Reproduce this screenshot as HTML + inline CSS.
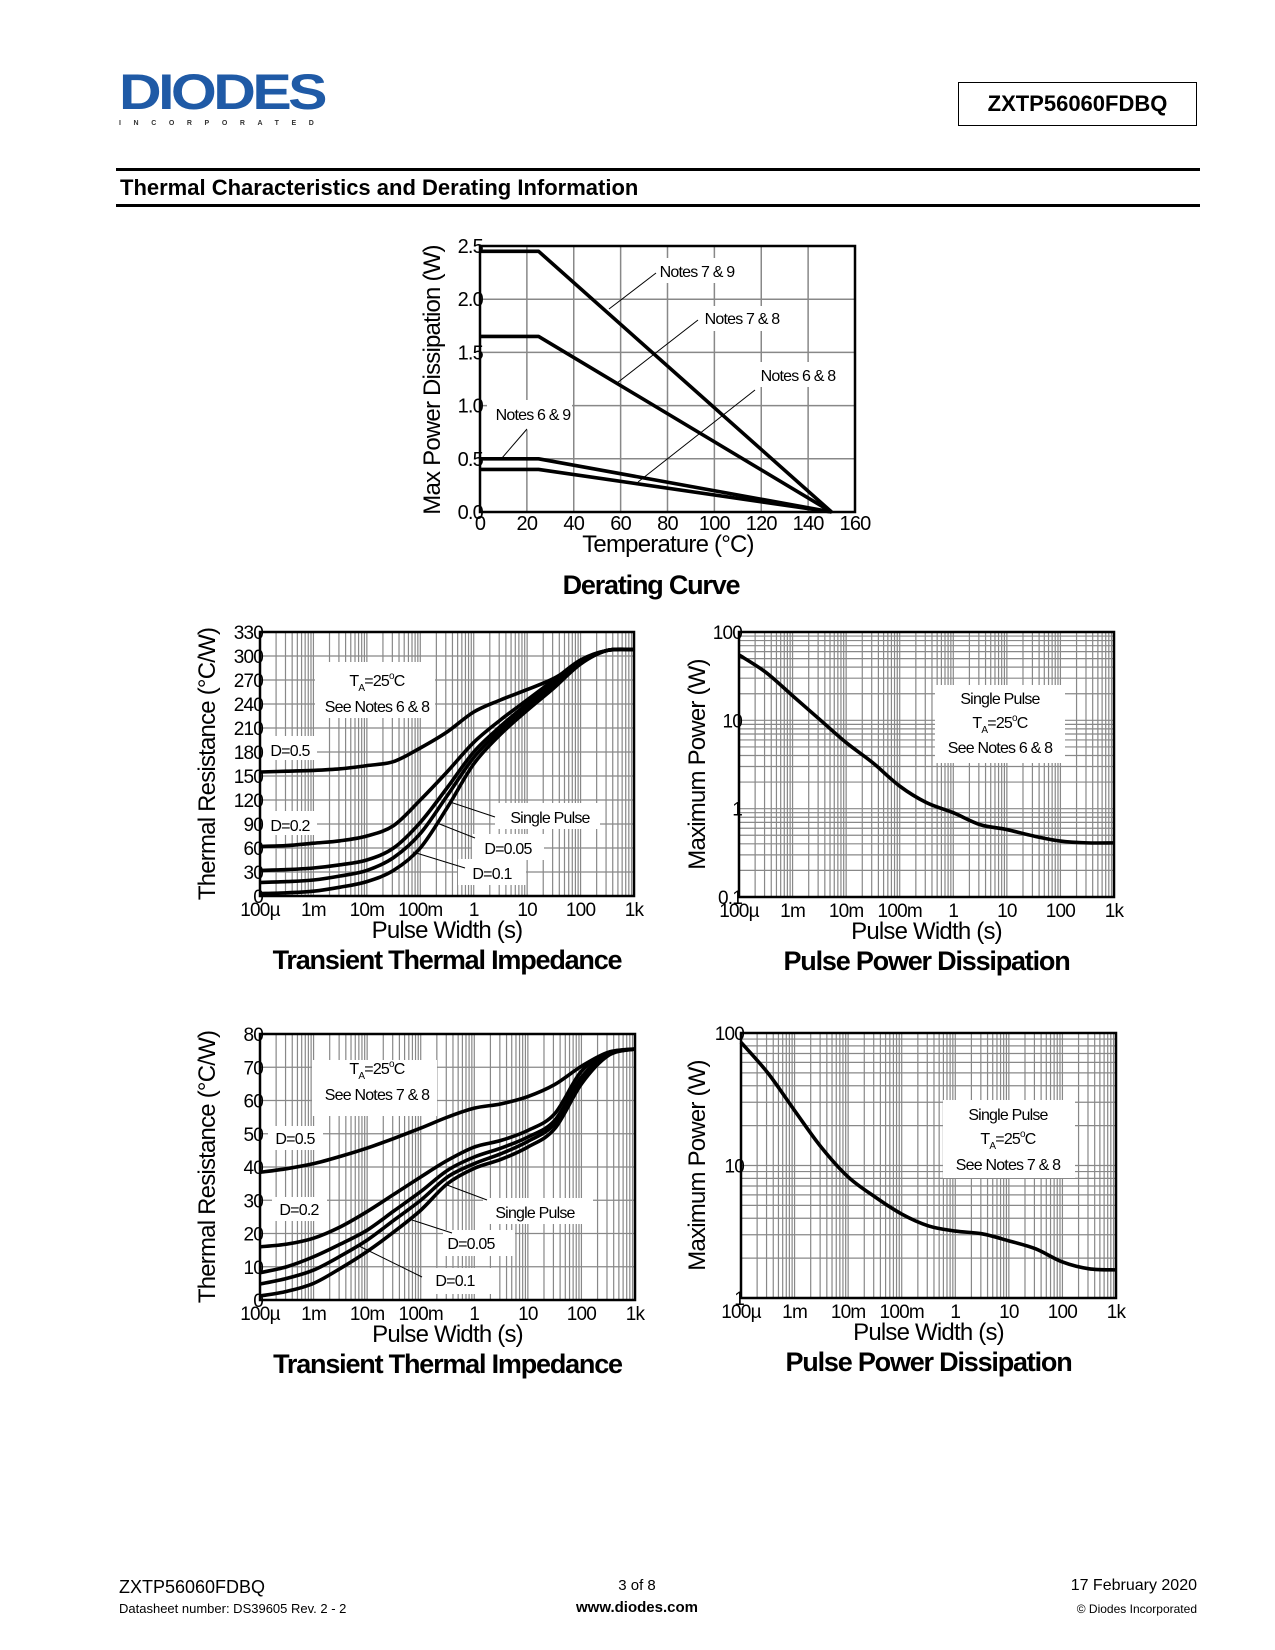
<!DOCTYPE html>
<html><head><meta charset="utf-8"><style>
body{margin:0;width:1275px;height:1650px;background:#fff;position:relative;font-family:"Liberation Sans",sans-serif;overflow:hidden}
.a{position:absolute;white-space:nowrap}
</style></head><body>
<div class="a" style="left:119px;top:66px;width:230px">
<div style="font:900 50px 'Liberation Sans',sans-serif;color:#1f5aa6;letter-spacing:-3px;transform:scaleX(1.18);transform-origin:left;line-height:52px">DIODES</div>
<div style="font:bold 7px 'Liberation Sans',sans-serif;letter-spacing:12.6px;color:#333;margin-top:2px">INCORPORATED</div></div>
<div class="a" style="left:958px;top:82px;width:237px;height:42px;border:1.5px solid #000;font:bold 22px 'Liberation Sans',sans-serif;text-align:center;line-height:42px">ZXTP56060FDBQ</div>
<div class="a" style="left:116px;top:168px;width:1084px;height:3px;background:#000"></div>
<div class="a" style="left:120px;top:175px;font:bold 22px 'Liberation Sans',sans-serif">Thermal Characteristics and Derating Information</div>
<div class="a" style="left:116px;top:204px;width:1084px;height:3px;background:#000"></div>
<svg id="s" class="a" style="left:0;top:0" width="1275" height="1650" font-family="Liberation Sans, sans-serif"></svg>
<div class="a" style="left:119px;top:1577px;font-size:18px">ZXTP56060FDBQ</div>
<div class="a" style="left:119px;top:1601px;font-size:13px">Datasheet number: DS39605 Rev. 2 - 2</div>
<div class="a" style="left:587px;width:100px;text-align:center;top:1577px;font-size:15px">3 of 8</div>
<div class="a" style="left:537px;width:200px;text-align:center;top:1599px;font-size:15px;font-weight:bold">www.diodes.com</div>
<div class="a" style="right:78px;top:1577px;font-size:16px">17 February 2020</div>
<div class="a" style="right:78px;top:1602px;font-size:12px">© Diodes Incorporated</div>
<script>
// Derating curve data
const derTemps=[0,25,150];
const der79=[2.45,2.45,0];
const der78=[1.65,1.65,0];
const der69=[0.5,0.5,0];
const der68=[0.4,0.4,0];
// log10 pulse width sample points
const logT=[-4,-3.5,-3,-2.5,-2,-1.5,-1,-0.5,0,0.5,1,1.5,2,2.5,3];
const tti1D05=[155,156,157,159,163,168,185,205,230,245,258,272,292,307,308];
const tti1D02=[62,63,66,69,75,88,120,155,192,220,245,270,295,307,308];
const tti1D01=[32,33,35,39,45,60,92,135,180,212,240,265,293,307,308];
const tti1D005=[17,18,20,25,32,48,78,125,173,207,236,262,292,307,308];
const tti1Single=[3,4,6,11,18,32,60,110,165,202,232,260,290,307,308];
const ppd1=[55,35,19,10.3,5.6,3.3,1.8,1.17,0.9,0.66,0.58,0.49,0.43,0.41,0.41];
const tti2D05=[38.4,39.5,41,43.2,45.7,48.6,51.7,55,57.7,59,61.2,64.8,70.3,74.5,75.5];
const tti2D02=[16,16.8,18.6,22,26.6,31.8,37,42,46,48,51,56,68.8,74,75.5];
const tti2D01=[8.2,10,13,16.8,21,26.8,32.6,39,43,45.7,49,54,67,74,75.5];
const tti2D005=[4.8,6.5,9,13.2,18,24,30,37,41,44,47.7,53,66,73.8,75.5];
const tti2Single=[1.2,2.6,5,9.5,14.6,20.5,27,35,39.6,42.3,46,51.5,65,73.5,75.5];
const ppd2=[85,50,26,13.7,8.2,5.8,4.3,3.5,3.2,3.05,2.7,2.35,1.87,1.66,1.63];
const xTickLabels=['100µ','1m','10m','100m','1','10','100','1k'];

const S=document.getElementById('s');const NS='http://www.w3.org/2000/svg';
function el(t,a,p){const e=document.createElementNS(NS,t);for(const k in a)e.setAttribute(k,a[k]);(p||S).appendChild(e);return e;}
function txt(x,y,s,size,anchor,name,extra){const e=el('text',Object.assign({x:x,y:y,'font-size':size,'text-anchor':anchor||'middle','letter-spacing':'-0.8'},extra||{}));e.textContent=s;


return e;}
function line(x1,y1,x2,y2,c,w,name){const e=el('line',{x1:x1,y1:y1,x2:x2,y2:y2,stroke:c,'stroke-width':w});


return e;}
function path(pts,name,smooth){let d='M'+pts[0][0]+','+pts[0][1];
 if(!smooth){for(let i=1;i<pts.length;i++)d+='L'+pts[i][0]+','+pts[i][1];}
 else{for(let i=0;i<pts.length-1;i++){const p0=pts[i-1]||pts[i],p1=pts[i],p2=pts[i+1],p3=pts[i+2]||p2;
 d+='C'+(p1[0]+(p2[0]-p0[0])/6)+','+(p1[1]+(p2[1]-p0[1])/6)+' '+(p2[0]-(p3[0]-p1[0])/6)+','+(p2[1]-(p3[1]-p1[1])/6)+' '+p2[0]+','+p2[1];}}
 const e=el('path',{d:d,fill:'none',stroke:'#000','stroke-width':3.6,'stroke-linejoin':'round'});
 
 
 return e;}
function box(x,y,w,h,name){const e=el('rect',{x:x,y:y,width:w,height:h,fill:'#fff'});

}

// ---- Derating
(function(){const L=480,T=246,R=855,B=512;
const X=v=>L+(v/160)*(R-L),Y=v=>B-(v/2.5)*(B-T);
for(let v=20;v<160;v+=20)line(X(v),T,X(v),B,'#888',1.5,'grid-x');
for(let v=0.5;v<2.5;v+=0.5)line(L,Y(v),R,Y(v),'#888',1.5,'grid-y');
box(487,400,85,30,'label-bg');box(650,258,95,25,'label-bg');box(694,306,95,25,'label-bg');box(750,362,95,25,'label-bg');
[der79,der78,der69,der68].forEach((s,i)=>path(derTemps.map((t,j)=>[X(t),Y(s[j])]),['series-notes-7-9','series-notes-7-8','series-notes-6-9','series-notes-6-8'][i]));
line(656,273,609,309,'#000',1,'leader-7-9');line(698,320,617,383,'#000',1,'leader-7-8');line(755,390,638,482,'#000',1,'leader-6-8');line(527,429,502,458,'#000',1,'leader-6-9');
txt(697,277,'Notes 7 & 9',16,'middle','label-notes-7-9');txt(742,324,'Notes 7 & 8',16,'middle','label-notes-7-8');txt(798,381,'Notes 6 & 8',16,'middle','label-notes-6-8');txt(533,420,'Notes 6 & 9',16,'middle','label-notes-6-9');
const r=el('rect',{x:L,y:T,width:R-L,height:B-T,fill:'none',stroke:'#000','stroke-width':2.5});
for(let v=0;v<=160;v+=20)txt(X(v),530,String(v),20,'middle','x-tick');
['0.0','0.5','1.0','1.5','2.0','2.5'].forEach((s,i)=>txt(L+3,Y(i*0.5)+7,s,20,'end','y-tick'));
txt(668,552,'Temperature (°C)',24,'middle','x-axis-title');
txt(0,0,'Max Power Dissipation (W)',24,'middle','y-axis-title',{transform:'translate(440,380) rotate(-90)'});
txt(651,594,'Derating Curve',27,'middle','chart-title',{'font-weight':'bold','letter-spacing':'-1.2'});
})();

function logChart(L,T,R,B,yMode,ymin,ymax,series,names,opts){
 const X=v=>L+((v+4)/7)*(R-L);
 const Y=yMode==='log'?(v=>B-(Math.log10(v)-Math.log10(ymin))/(Math.log10(ymax)-Math.log10(ymin))*(B-T)):(v=>B-(v-ymin)/(ymax-ymin)*(B-T));
 for(let d=-4;d<3;d++)for(let m=1;m<10;m++){const x=X(d+Math.log10(m));if(m>1||d>-4)line(x,T,x,B,'#888',1.2,'grid-x');}
 if(yMode==='log'){for(let d=Math.log10(ymin);d<Math.log10(ymax);d++)for(let m=1;m<10;m++){const v=Math.pow(10,d)*m;if(v>ymin)line(L,Y(v),R,Y(v),'#888',1.2,'grid-y');}}
 else{for(let v=ymin+opts.ystep;v<ymax;v+=opts.ystep)line(L,Y(v),R,Y(v),'#888',1.2,'grid-y');}
 (opts.boxes||[]).forEach(b=>box(b[0],b[1],b[2],b[3],'label-bg'));
 series.forEach((s,i)=>path(logT.map((t,j)=>[X(t),Y(s[j])]),names[i],true));
 (opts.leaders||[]).forEach(l=>line(l[0],l[1],l[2],l[3],'#000',1,'leader-line'));
 (opts.labels||[]).forEach(l=>{const e=txt(l[0],l[1],l[2],16,'middle',l[3]);if(l[4]){e.textContent='';const a=el('tspan',{},e);a.textContent='T';const b=el('tspan',{'font-size':10,dy:5},e);b.textContent='A';const c=el('tspan',{dy:-5},e);c.textContent='=25';const dd=el('tspan',{'font-size':10,dy:-7},e);dd.textContent='o';const f=el('tspan',{dy:7},e);f.textContent='C';}});
 const r=el('rect',{x:L,y:T,width:R-L,height:B-T,fill:'none',stroke:'#000','stroke-width':2.5});
 xTickLabels.forEach((s,i)=>txt(X(i-4),B+20,s,19,'middle','x-tick'));
 opts.yticks.forEach(v=>txt(L+3,Y(v)+7,String(v),19,'end','y-tick'));
 txt((L+R)/2,B+42,'Pulse Width (s)',24,'middle','x-axis-title');
 txt(0,0,opts.ytitle,24,'middle','y-axis-title',{transform:'translate('+opts.yx+','+((T+B)/2)+') rotate(-90)'});
 txt((L+R)/2,B+73,opts.title,27,'middle','chart-title',{'font-weight':'bold','letter-spacing':'-1.2'});
}
const tnames=['series-d-0.5','series-d-0.2','series-d-0.1','series-d-0.05','series-single-pulse'];
logChart(260,632,634,896,'lin',0,330,[tti1D05,tti1D02,tti1D01,tti1D005,tti1Single],tnames,{ystep:30,
 yticks:[0,30,60,90,120,150,180,210,240,270,300,330],ytitle:'Thermal Resistance (°C/W)',yx:215,title:'Transient Thermal Impedance',
 boxes:[[315,662,120,56],[262,736,55,24],[262,811,55,24],[495,803,105,26],[472,834,72,26],[458,859,68,26]],
 leaders:[[495,817,450,802],[475,838,437,823],[465,868,413,852]],
 labels:[[377,686,'TA=25°C','label-ta',true],[377,712,'See Notes 6 & 8','label-notes'],[290,756,'D=0.5','label-d-0.5'],[290,831,'D=0.2','label-d-0.2'],[550,823,'Single Pulse','label-single-pulse'],[508,854,'D=0.05','label-d-0.05'],[492,879,'D=0.1','label-d-0.1']]});
logChart(739,632,1114,897,'log',0.1,100,[ppd1],['series-max-power'],{
 yticks:[0.1,1,10,100],ytitle:'Maximum Power (W)',yx:705,title:'Pulse Power Dissipation',
 boxes:[[935,685,130,78]],
 labels:[[1000,704,'Single Pulse','label-single-pulse'],[1000,728,'TA=25°C','label-ta',true],[1000,753,'See Notes 6 & 8','label-notes']]});
logChart(260,1034,635,1300,'lin',0,80,[tti2D05,tti2D02,tti2D01,tti2D005,tti2Single],tnames,{ystep:10,
 yticks:[0,10,20,30,40,50,60,70,80],ytitle:'Thermal Resistance (°C/W)',yx:215,title:'Transient Thermal Impedance',
 boxes:[[312,1060,125,56],[268,1126,55,24],[272,1197,55,24],[483,1198,110,26],[443,1230,72,26],[430,1268,68,26]],
 leaders:[[487,1200,447,1185],[452,1233,412,1220],[422,1277,357,1245]],
 labels:[[377,1074,'TA=25°C','label-ta',true],[377,1100,'See Notes 7 & 8','label-notes'],[295,1144,'D=0.5','label-d-0.5'],[299,1215,'D=0.2','label-d-0.2'],[535,1218,'Single Pulse','label-single-pulse'],[471,1249,'D=0.05','label-d-0.05'],[455,1286,'D=0.1','label-d-0.1']]});
logChart(741,1033,1116,1298,'log',1,100,[ppd2],['series-max-power'],{
 yticks:[1,10,100],ytitle:'Maximum Power (W)',yx:705,title:'Pulse Power Dissipation',
 boxes:[[943,1100,132,78]],
 labels:[[1008,1120,'Single Pulse','label-single-pulse'],[1008,1144,'TA=25°C','label-ta',true],[1008,1170,'See Notes 7 & 8','label-notes']]});
</script>
</body></html>
